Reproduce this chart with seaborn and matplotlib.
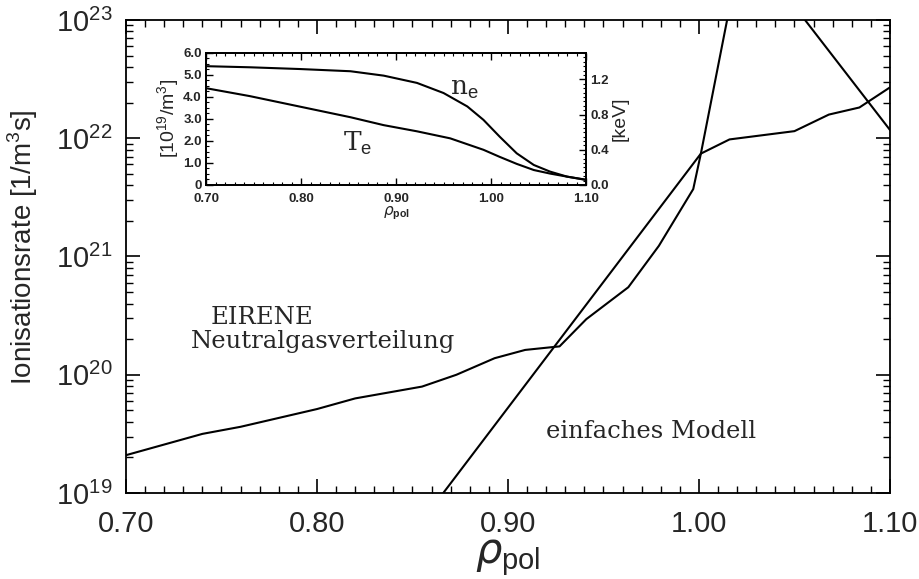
import numpy as np
import pandas as pd
import matplotlib
matplotlib.use("Agg")
import matplotlib.pyplot as plt
from matplotlib.ticker import MultipleLocator, FixedLocator, LogLocator, LogFormatterMathtext, NullFormatter
import seaborn as sns

# ---------------- data ----------------
# EIRENE neutral gas distribution: rho_pol and log10(ionisation rate)
eirene_rho = [0.700, 0.740, 0.760, 0.800, 0.820, 0.855, 0.873, 0.893, 0.909, 0.927,
              0.941, 0.963, 0.979, 0.997, 1.001, 1.016, 1.050, 1.068, 1.084, 1.100]
eirene_log = [19.32, 19.50, 19.56, 19.71, 19.80, 19.90, 20.00, 20.14, 20.21, 20.24,
              20.47, 20.74, 21.09, 21.57, 21.87, 21.99, 22.06, 22.20, 22.26, 22.43]
# simple model
simple_rho = [0.860, 1.001, 1.023, 1.100]
simple_log = [18.87, 21.87, 23.68, 22.07]

# inset profiles
prof_rho = [0.700, 0.746, 0.799, 0.852, 0.887, 0.922, 0.950, 0.975, 0.992, 1.009,
            1.027, 1.045, 1.062, 1.080, 1.100]
ne_vals = [5.40, 5.35, 5.27, 5.17, 4.97, 4.64, 4.18, 3.57, 2.96, 2.20,
           1.44, 0.91, 0.61, 0.38, 0.23]
te_rho = [0.700, 0.746, 0.799, 0.852, 0.887, 0.922, 0.957, 0.992, 1.009, 1.027,
          1.045, 1.062, 1.080, 1.100]
te_vals = [1.10, 1.01, 0.89, 0.77, 0.68, 0.61, 0.53, 0.40, 0.32, 0.24,
           0.17, 0.13, 0.095, 0.06]

main_xticks = [0.70, 0.80, 0.90, 1.00, 1.10]
main_xlabels = ["0.70", "0.80", "0.90", "1.00", "1.10"]
inset_yticks = [0, 1, 2, 3, 4, 5, 6]
inset_ylabels = ["0", "1.0", "2.0", "3.0", "4.0", "5.0", "6.0"]
inset_rticks = [0.0, 0.4, 0.8, 1.2]
inset_rlabels = ["0.0", "0.4", "0.8", "1.2"]

# ---------------- style ----------------
sns.set_theme(style="ticks")
plt.rcParams["font.family"] = ["Liberation Sans", "DejaVu Sans"]
plt.rcParams["mathtext.fontset"] = "custom"
plt.rcParams["mathtext.rm"] = "Liberation Sans"
plt.rcParams["mathtext.it"] = "DejaVu Sans:italic"
plt.rcParams["mathtext.bf"] = "Liberation Sans:bold"
plt.rcParams["axes.linewidth"] = 1.3

fig = plt.figure(figsize=(9.19, 5.79), dpi=100)
ax = fig.add_axes([0.1371, 0.1485, 0.8313, 0.817])

df_e = pd.DataFrame({"rho": eirene_rho, "rate": [10 ** v for v in eirene_log]})
df_s = pd.DataFrame({"rho": simple_rho, "rate": [10 ** v for v in simple_log]})
sns.lineplot(data=df_e, x="rho", y="rate", ax=ax, color="black", lw=1.5,
             sort=False, estimator=None)
sns.lineplot(data=df_s, x="rho", y="rate", ax=ax, color="black", lw=1.5,
             sort=False, estimator=None)

ax.set_yscale("log")
ax.set_xlim(0.70, 1.10)
ax.set_ylim(1e19, 1e23)
ax.xaxis.set_major_locator(FixedLocator(main_xticks))
ax.set_xticklabels(main_xlabels, fontsize=21)
ax.xaxis.set_minor_locator(MultipleLocator(0.01))
ax.yaxis.set_major_locator(LogLocator(base=10, numticks=10))
ax.yaxis.set_major_formatter(LogFormatterMathtext())
ax.yaxis.set_minor_locator(LogLocator(base=10, subs=np.arange(2, 10), numticks=20))
ax.yaxis.set_minor_formatter(NullFormatter())
ax.tick_params(axis="both", which="both", direction="in", top=True, right=True, color="black")
ax.tick_params(axis="both", which="major", length=10, width=1.2)
ax.tick_params(axis="both", which="minor", length=5, width=1.0)
ax.tick_params(axis="x", which="major", labelsize=21, pad=12)
ax.tick_params(axis="y", which="major", labelsize=21, pad=10)
for s in ax.spines.values():
    s.set_color("black")

ax.set_xlabel(r"$\rho_{\rm pol}$", fontsize=30, labelpad=0)
ax.set_ylabel(r"Ionisationsrate [1/m$^3$s]", fontsize=20)
ax.yaxis.set_label_coords(-0.112, 0.52)

ax.text(0.7715, 3.05e20, "EIRENE", fontsize=17.5, family="DejaVu Serif", ha="center", va="center")
ax.text(0.803, 1.9e20, "Neutralgasverteilung", fontsize=17.5, family="DejaVu Serif", ha="center", va="center")
ax.text(0.975, 3.3e19, "einfaches Modell", fontsize=17.5, family="DejaVu Serif", ha="center", va="center")

# ---------------- inset ----------------
ins = fig.add_axes([0.2242, 0.6805, 0.4135, 0.228])
df_ne = pd.DataFrame({"rho": prof_rho, "ne": ne_vals})
sns.lineplot(data=df_ne, x="rho", y="ne", ax=ins, color="black", lw=1.5,
             sort=False, estimator=None)
ins.set_xlim(0.70, 1.10)
ins.set_ylim(0, 6)
ins.xaxis.set_major_locator(FixedLocator(main_xticks))
ins.set_xticklabels(main_xlabels, fontsize=9.5, fontweight="bold")
ins.xaxis.set_minor_locator(MultipleLocator(0.01))
ins.yaxis.set_major_locator(FixedLocator(inset_yticks))
ins.set_yticklabels(inset_ylabels, fontsize=9.5, fontweight="bold")
ins.yaxis.set_minor_locator(MultipleLocator(0.25))
ins.tick_params(axis="both", which="both", direction="in", top=True, color="black")
ins.tick_params(axis="both", which="major", length=5, width=1.0, pad=3)
ins.tick_params(axis="x", which="major", pad=6)
ins.tick_params(axis="both", which="minor", length=2.5, width=0.8)
ins.set_xlabel(r"$\rho_{\mathbf{pol}}$", fontsize=11, labelpad=-1)
ins.set_ylabel(r"[10$^{19}$/m$^3$]", fontsize=14, labelpad=1)

ins2 = ins.twinx()
df_te = pd.DataFrame({"rho": te_rho, "te": te_vals})
sns.lineplot(data=df_te, x="rho", y="te", ax=ins2, color="black", lw=1.5,
             sort=False, estimator=None)
ins2.set_ylim(0, 1.5)
ins2.yaxis.set_major_locator(FixedLocator(inset_rticks))
ins2.set_yticklabels(inset_rlabels, fontsize=9.5, fontweight="bold")
ins2.yaxis.set_minor_locator(MultipleLocator(0.05))
ins2.tick_params(axis="y", which="both", direction="in", color="black")
ins2.tick_params(axis="y", which="major", length=5, width=1.0, pad=3)
ins2.tick_params(axis="y", which="minor", length=2.5, width=0.8)
ins2.set_ylabel("[keV]", fontsize=14, labelpad=2)
for a in (ins, ins2):
    for s in a.spines.values():
        s.set_color("black")
        s.set_linewidth(1.3)

ins.text(0.957, 4.4, r"n$_{\rm e}$", fontsize=19, family="DejaVu Serif", ha="left", va="center")
ins.text(0.844, 1.9, r"T$_{\rm e}$", fontsize=19, family="DejaVu Serif", ha="left", va="center")

fig.savefig("out.png", dpi=100)
